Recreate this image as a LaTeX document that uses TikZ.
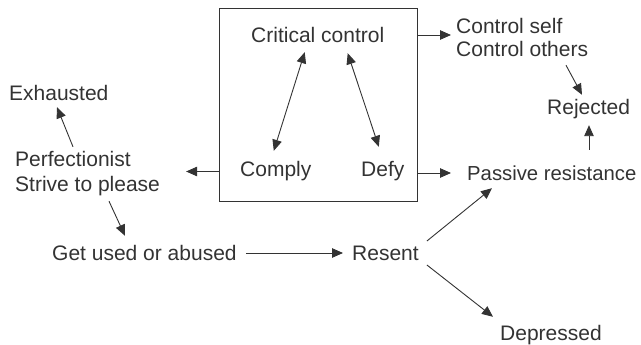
\documentclass[tikz,border=0pt]{standalone}
\usepackage{fontspec}
\setmainfont{Liberation Sans}
\usetikzlibrary{arrows.meta,calc}
\definecolor{ink}{HTML}{333333}
\begin{document}
\begin{tikzpicture}[x=1pt,y=-1pt,
  lbl/.style={inner sep=0pt, anchor=base west, text=ink, font=\fontsize{21}{24}\selectfont, text height=15pt, text depth=4pt},
  arr/.style={draw=ink, line width=0.9pt, -{Triangle[length=11pt,width=9.5pt]}},
  darr/.style={draw=ink, line width=0.9pt, {Triangle[length=11pt,width=9.5pt]}-{Triangle[length=11pt,width=9.5pt]}},
  frame/.style={draw=ink, line width=0.9pt, inner sep=0pt}]
\useasboundingbox (0,0) rectangle (641,345);
% box
\node[frame, minimum width=198pt, minimum height=193pt] (box) at (318,104.5) {};
\node[lbl] (crit) at (251,43) {Critical control};
\node[lbl] (comply) at (240,177) {Comply};
\node[lbl] (defy) at (361,177) {Defy};
% outside
\node[lbl] (cself) at (456,34) {Control self};
\node[lbl] (cothers) at (456,57) {Control others};
\node[lbl] (rej) at (547,115) {Rejected};
\node[lbl, font=\fontsize{20.3}{24}\selectfont] (pass) at (467,181) {Passive resistance};
\node[lbl] (exh) at (9,101) {Exhausted};
\node[lbl] (perf) at (15,167) {Perfectionist};
\node[lbl] (strive) at (15,191) {Strive to please};
\node[lbl] (used) at (52,260) {Get used or abused};
\node[lbl] (resent) at (352,260) {Resent};
\node[lbl] (dep) at (500,340) {Depressed};
% connectors
\draw[darr] ($(crit.south)+(-13,5)$) -- ($(comply.north)+(-2,-11)$);
\draw[darr] ($(crit.south)+(30,6)$) -- ($(defy.north)+(-4,-15)$);
\draw[arr] (box.west|-comply) -- ($(strive.east|-comply)+(26,0)$);
\draw[arr] ($(box.east|-cself)+(0,6.5)$) -- ($(cself.west)+(-5,6.5)$);
\draw[arr] ($(box.east|-pass)+(0,-2.5)$) -- ($(pass.west)+(-16,-2.5)$);
\draw[arr] ($(cothers.south west)+(110,4)$) -- ($(rej.north west)+(35,-5)$);
\draw[arr] ($(pass.north west)+(122,-16)$) -- ($(rej.south west)+(42,6)$);
\draw[arr] ($(perf.north west)+(58,-5)$) -- ($(exh.south west)+(48,2)$);
\draw[arr] ($(strive.south west)+(94,6)$) -- ($(used.north west)+(73,-9)$);
\draw[arr] ($(used.east)+(9,-1.5)$) -- ($(resent.west)+(-9,-1.5)$);
\draw[arr] ($(resent.east)+(8,-13.5)$) -- ($(pass.south west)+(25,3)$);
\draw[arr] ($(resent.east)+(8,10.5)$) -- ($(dep.north west)+(-7,-8)$);
\end{tikzpicture}
\end{document}
